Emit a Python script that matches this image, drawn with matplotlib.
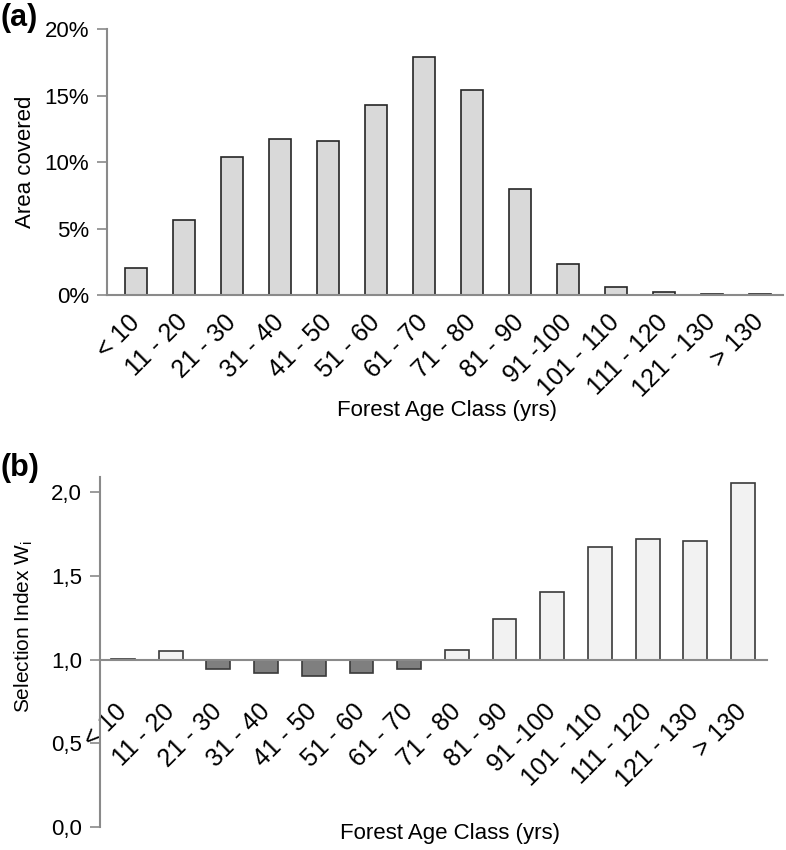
import matplotlib
matplotlib.use("Agg")
import matplotlib.pyplot as plt
import numpy as np

plt.rcParams['font.family'] = ['Liberation Sans', 'DejaVu Sans']

categories = ["< 10", "11 - 20", "21 - 30", "31 - 40", "41 - 50", "51 - 60", "61 - 70",
              "71 - 80", "81 - 90", "91 -100", "101 - 110", "111 - 120", "121 - 130", "> 130"]
area_pct = [2.0, 5.65, 10.4, 11.75, 11.6, 14.3, 17.9, 15.4, 8.0, 2.3, 0.58, 0.2, 0.1, 0.1]
selection_index = [1.006, 1.05, 0.946, 0.917, 0.902, 0.917, 0.946, 1.057, 1.244, 1.403,
                   1.67, 1.718, 1.704, 2.05]
ytick_a = [0, 5, 10, 15, 20]
ytick_a_labels = ["0%", "5%", "10%", "15%", "20%"]
ytick_b = [0.0, 0.5, 1.0, 1.5, 2.0]
ytick_b_labels = ["0,0", "0,5", "1,0", "1,5", "2,0"]

AX_COL = "#8a8a8a"
FS = 16
XFS = 18

fig = plt.figure(figsize=(7.86, 8.5), dpi=100)
x = np.arange(len(categories))

# ---- panel (a)
ax1 = fig.add_axes([0.1361, 0.6529, 0.8601, 0.3129])
ax1.bar(x, area_pct, width=0.44, color="#d9d9d9", edgecolor="#262626", linewidth=1.2, zorder=2)
ax1.set_xlim(-0.604, len(categories) - 0.52)
ax1.set_ylim(0, 20)
ax1.set_yticks(ytick_a)
ax1.set_yticklabels(ytick_a_labels, fontsize=FS)
ax1.set_xticks(x)
ax1.set_xticklabels(categories, rotation=45, ha="right", va="center",
                    rotation_mode="anchor", fontsize=XFS)
ax1.tick_params(axis="x", length=0, pad=17)
ax1.tick_params(axis="y", length=7, width=1.2, color=AX_COL, direction="out", pad=6)
for s in ["top", "right"]:
    ax1.spines[s].set_visible(False)
for s in ["left", "bottom"]:
    ax1.spines[s].set_color(AX_COL)
    ax1.spines[s].set_linewidth(1.5)
ax1.spines["bottom"].set_zorder(3)
ax1.set_ylabel("Area covered", fontsize=FS)
ax1.yaxis.set_label_coords(-0.105, 0.5)
fig.text(0.569, 1 - 410 / 850, "Forest Age Class (yrs)", ha="center", va="center", fontsize=FS)
fig.text(0.0, 1 - 18 / 850, "(a)", ha="left", va="center", fontsize=22, fontweight="bold")

# ---- panel (b)
ax2 = fig.add_axes([0.1272, 0.0267, 0.8486, 0.4125])
colors_b = ["#f2f2f2" if v >= 1 else "#7f7f7f" for v in selection_index]
heights_b = [v - 1.0 for v in selection_index]
ax2.bar(x, heights_b, bottom=1.0, width=0.5, color=colors_b, edgecolor="#3a3a3a",
        linewidth=1.2, zorder=2)
ax2.set_xlim(-0.48, len(categories) - 0.5)
ax2.set_ylim(0, 2.09)
ax2.set_yticks(ytick_b)
ax2.set_yticklabels(ytick_b_labels, fontsize=FS)
ax2.spines["bottom"].set_position(("data", 1.0))
ax2.set_xticks(x)
ax2.set_xticklabels(categories, rotation=45, ha="right", va="center",
                    rotation_mode="anchor", fontsize=XFS)
ax2.tick_params(axis="x", length=0, pad=35)
ax2.tick_params(axis="y", length=7, width=1.2, color=AX_COL, direction="out", pad=6)
for s in ["top", "right"]:
    ax2.spines[s].set_visible(False)
for s in ["left", "bottom"]:
    ax2.spines[s].set_color(AX_COL)
    ax2.spines[s].set_linewidth(1.5)
ax2.spines["bottom"].set_zorder(3)
ax2.set_ylabel("Selection Index W$_\\mathregular{i}$", fontsize=15)
ax2.yaxis.set_label_coords(-0.097, 0.571)
fig.text(0.572, 1 - 833 / 850, "Forest Age Class (yrs)", ha="center", va="center", fontsize=FS)
fig.text(0.0, 1 - 468 / 850, "(b)", ha="left", va="center", fontsize=22, fontweight="bold")

fig.savefig("out.png", dpi=100)
